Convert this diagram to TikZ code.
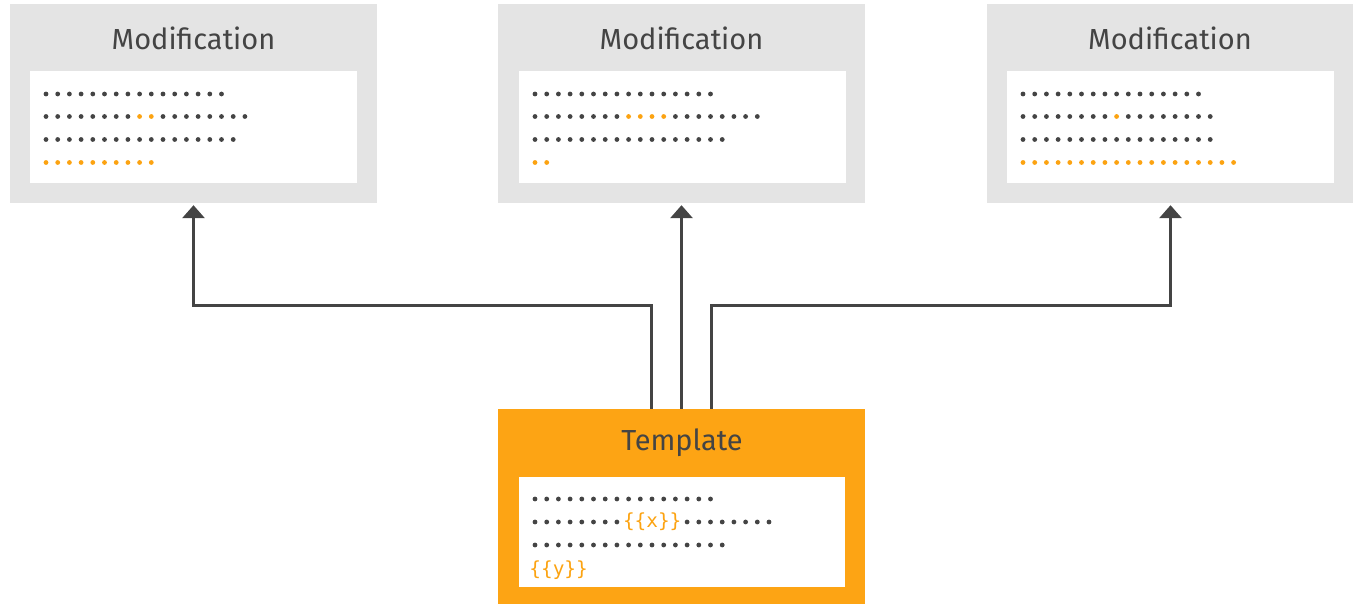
\documentclass[tikz,border=0pt]{standalone}
\usepackage{fontspec}
\setmainfont{Fira Sans}
\newfontfamily\codefont{DejaVu Sans Mono}
\usetikzlibrary{arrows.meta}
\definecolor{boxgray}{HTML}{E4E4E4}
\definecolor{tplorange}{HTML}{FDA414}
\definecolor{dk}{HTML}{444444}
\definecolor{dotorange}{HTML}{FCA311}
\newcommand{\pitch}{11.7}
\newcommand{\drow}[5]{\foreach \i in {#3,...,#4} \fill[#5] ({#1+\i*\pitch},#2) circle (2.4bp);}
\begin{document}
\begin{tikzpicture}[x=1bp,y=1bp,
  outerbox/.style={draw=none,fill=boxgray,minimum width=367bp,minimum height=199bp,inner sep=0pt},
  tplbox/.style={draw=none,fill=tplorange,minimum width=367bp,minimum height=199bp,inner sep=0pt},
  innerbox/.style={draw=none,fill=white,minimum width=327bp,minimum height=112bp,inner sep=0pt},
  title/.style={text=dk,font=\fontsize{29bp}{32bp}\selectfont,inner sep=0pt},
  code/.style={text=dotorange,font=\codefont\fontsize{19.4bp}{22bp}\selectfont,inner sep=0pt,anchor=west},
  arr/.style={draw=dk,line width=3bp,-{Triangle[width=22bp,length=13bp]}}]
\useasboundingbox (0,0) rectangle (1353,604);
% boxes
\node[outerbox] (m1) at (193.5,500.5) {};
\node[outerbox] (m2) at (681.5,500.5) {};
\node[outerbox] (m3) at (1170.5,500.5) {};
\node[tplbox] (t) at (681.5,95.5) {};
\node[innerbox] (w1) at (193.5,477) {};
\node[innerbox] (w2) at (682,477) {};
\node[innerbox] (w3) at (1170,477) {};
\node[innerbox,minimum width=326bp,minimum height=110bp] (wt) at (682,72) {};
% titles
\node[title] (l1) at (193.5,566) {Modification};
\node[title] (l2) at (681.5,566) {Modification};
\node[title] (l3) at (1170,566) {Modification};
\node[title] (lt) at (682,161) {Template};
% dots: modification 1
\drow{46}{510}{0}{15}{dk}
\drow{46}{487.5}{0}{7}{dk}
\drow{46}{487.5}{8}{9}{dotorange}
\drow{46}{487.5}{10}{17}{dk}
\drow{46}{464.5}{0}{16}{dk}
\drow{46}{441.5}{0}{9}{dotorange}
% modification 2
\drow{535}{510}{0}{15}{dk}
\drow{535}{487.5}{0}{7}{dk}
\drow{535}{487.5}{8}{11}{dotorange}
\drow{535}{487.5}{12}{19}{dk}
\drow{535}{464.5}{0}{16}{dk}
\drow{535}{441.5}{0}{1}{dotorange}
% modification 3
\drow{1023}{510}{0}{15}{dk}
\drow{1023}{487.5}{0}{7}{dk}
\drow{1023}{487.5}{8}{8}{dotorange}
\drow{1023}{487.5}{9}{16}{dk}
\drow{1023}{464.5}{0}{16}{dk}
\drow{1023}{441.5}{0}{18}{dotorange}
% template
\drow{535}{105}{0}{15}{dk}
\drow{535}{82}{0}{7}{dk}
\node[code] (cx) at (622.8,82) {\{\{x\}\}};
\drow{535}{82}{13}{20}{dk}
\drow{535}{59}{0}{16}{dk}
\node[code] (cy) at (529.2,34) {\{\{y\}\}};
% arrows
\draw[arr] ([xshift=-30bp]t.north) -- ++(0,103) -| ([yshift=-2bp]m1.south);
\draw[arr] (t.north) -- ([yshift=-2bp]m2.south);
\draw[arr] ([xshift=30bp]t.north) -- ++(0,103) -| ([yshift=-2bp]m3.south);
\end{tikzpicture}
\end{document}
